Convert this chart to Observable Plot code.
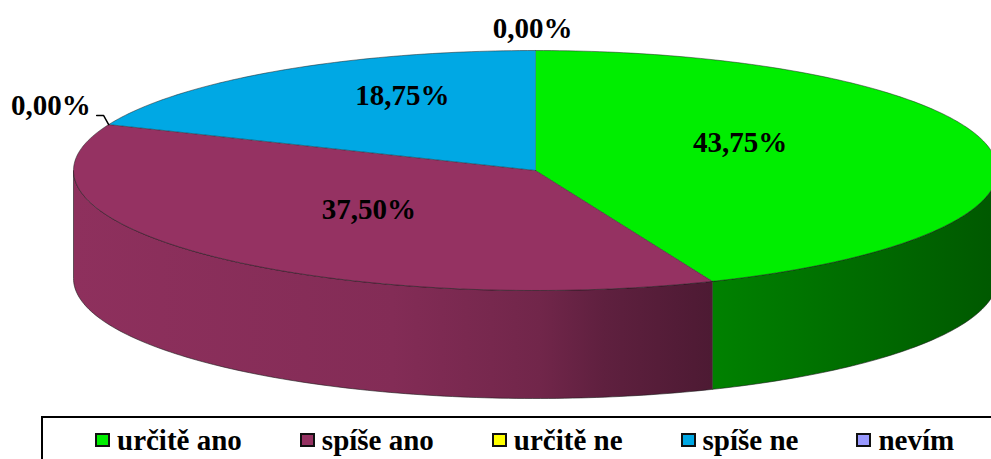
<!DOCTYPE html>
<html>
<head>
<meta charset="utf-8">
<script src="https://cdn.jsdelivr.net/npm/d3@7"></script>
<script src="https://cdn.jsdelivr.net/npm/@observablehq/plot@0.6"></script>
<style>
  html, body { margin: 0; padding: 0; background: #fff; overflow: hidden; width: 991px; height: 459px; }
  #chart svg { display: block; }
  .legend {
    position: absolute; left: 41px; top: 416px; width: 1100px; height: 80px;
    border: 2px solid #000; box-sizing: border-box;
    display: flex; align-items: flex-start;
    padding: 8px 0 0 52px;
    font-family: "Liberation Serif", "Tinos", "Times New Roman", "DejaVu Serif", serif; font-weight: bold; font-size: 29px;
  }
  .legend .item { display: flex; align-items: center; margin-right: 58px; line-height: 28px; height: 28px; }
  .legend .sw { width: 15px; height: 14px; border: 2px solid #111; box-sizing: border-box; margin-right: 7px; }
</style>
</head>
<body>
<div id="chart"></div>
<div class="legend" id="legend"></div>
<script>
// ---- data ----
const categories = ["určitě ano", "spíše ano", "určitě ne", "spíše ne", "nevím"];
const values = [43.75, 37.50, 0.00, 18.75, 0.00];
const colors = ["#00ee00", "#953262", "#ffff00", "#00a8e4", "#9999ff"];

// ---- geometry (layout) ----
const W = 991, H = 415;
const CX = 535, CY = 170, RX = 462, RY = 120;
const DEPTH = 0.9; // wall height in units of RY
const rad = d => d * Math.PI / 180;

const total = d3.sum(values);
let acc = 0;
const slices = categories.map((c, i) => {
  const a0 = acc / total * 360; acc += values[i];
  const a1 = acc / total * 360;
  return {i, category: c, value: values[i], a0, a1, mid: (a0 + a1) / 2};
});

function arcPts(a0, a1) {
  const n = Math.max(2, Math.ceil(Math.abs(a1 - a0)));
  return d3.range(n + 1).map(k => {
    const a = rad(a0 + (a1 - a0) * k / n);
    return [Math.sin(a), Math.cos(a)];
  });
}

// top faces
const topPts = slices.filter(s => s.value > 0).flatMap(s =>
  [[0, 0], ...arcPts(s.a0, s.a1)].map(([x, y]) => ({slice: s.category, x, y})));

// front walls (visible between 90° and 270°)
const walls = slices.filter(s => s.value > 0).map(s => {
  const lo = Math.max(s.a0, 90), hi = Math.min(s.a1, 270);
  if (lo >= hi) return null;
  const top = arcPts(lo, hi);
  const pts = [...top, ...top.slice().reverse().map(([x, y]) => [x, y - DEPTH])]
    .map(([x, y]) => ({x, y}));
  return {i: s.i, pts};
}).filter(Boolean);

const fmt = v => v.toFixed(2).replace(".", ",") + "%";

// inner labels
const inner = slices.filter(s => s.value > 0).map(s => ({
  x: 0.476 * Math.sin(rad(s.mid)), y: 0.62 * Math.cos(rad(s.mid)), label: fmt(s.value)
}));
// zero-value labels outside the rim
const zeros = slices.filter(s => s.value === 0).map(s => {
  const a = rad(s.a0 % 360);
  return {x: Math.sin(a), y: Math.cos(a), side: Math.abs(Math.sin(a)) > 0.3, label: fmt(s.value)};
});
const zerosTop = zeros.filter(d => !d.side);
const zerosSide = zeros.filter(d => d.side);
const leaders = zerosSide.flatMap((d, k) => [
  {k, x: d.x, y: d.y},
  {k, x: d.x - 5 / RX, y: d.y + 9 / RY},
  {k, x: d.x - 12 / RX, y: d.y + 9 / RY}
]);

const textStyle = {fontFamily: "'Liberation Serif', Tinos, 'Times New Roman', 'DejaVu Serif', serif", fontWeight: "bold", fontSize: 29, fill: "#000"};

const svg = Plot.plot({
  width: W, height: H,
  marginTop: 0, marginRight: 0, marginBottom: 0, marginLeft: 0,
  x: {domain: [-1, 1], range: [CX - RX, CX + RX], axis: null},
  y: {domain: [-1, 1], range: [CY + RY, CY - RY], axis: null},
  color: {domain: categories, range: colors},
  marks: [
    ...walls.map(w => Plot.line(w.pts, {x: "x", y: "y", fill: `url(#wall${w.i})`, stroke: "#1a1a1a", strokeWidth: 0.7, strokeOpacity: 0.85, curve: "linear"})),
    Plot.line(topPts, {x: "x", y: "y", z: "slice", fill: "slice", stroke: "#1a1a1a", strokeWidth: 0.7, strokeOpacity: 0.7, curve: "linear"}),
    Plot.text(inner, {x: "x", y: "y", text: "label", dx: -11, dy: -13, ...textStyle}),
    Plot.text(zerosTop, {x: "x", y: "y", text: "label", dx: -3, dy: -22, ...textStyle}),
    Plot.line(leaders, {x: "x", y: "y", z: "k", stroke: "#000", strokeWidth: 1.5}),
    Plot.text(zerosSide, {x: "x", y: "y", text: "label", dx: -18, dy: -19, textAnchor: "end", ...textStyle})
  ]
});

// shading gradients for the walls
const shade = {0: [[0, 0.54], [1, 0.37]], 1: [[0, 0.95], [0.5, 0.88], [0.73, 0.76], [0.83, 0.64], [1, 0.52]]};
const defs = d3.select(svg).insert("defs", ":first-child");
walls.forEach(w => {
  const base = d3.rgb(colors[w.i]);
  const stops = shade[w.i] || [[0, 0.8], [1, 0.5]];
  const g = defs.append("linearGradient").attr("id", "wall" + w.i)
    .attr("x1", 0).attr("x2", 1).attr("y1", 0).attr("y2", 0);
  stops.forEach(([o, r]) => {
    g.append("stop").attr("offset", o)
      .attr("stop-color", d3.rgb(base.r * r, base.g * r, base.b * r).formatHex());
  });
});

document.getElementById("chart").appendChild(svg);

// legend
const legend = d3.select("#legend");
categories.forEach((c, i) => {
  const it = legend.append("div").attr("class", "item");
  it.append("div").attr("class", "sw").style("background", colors[i]);
  it.append("span").text(c);
});
</script>
</body>
</html>
